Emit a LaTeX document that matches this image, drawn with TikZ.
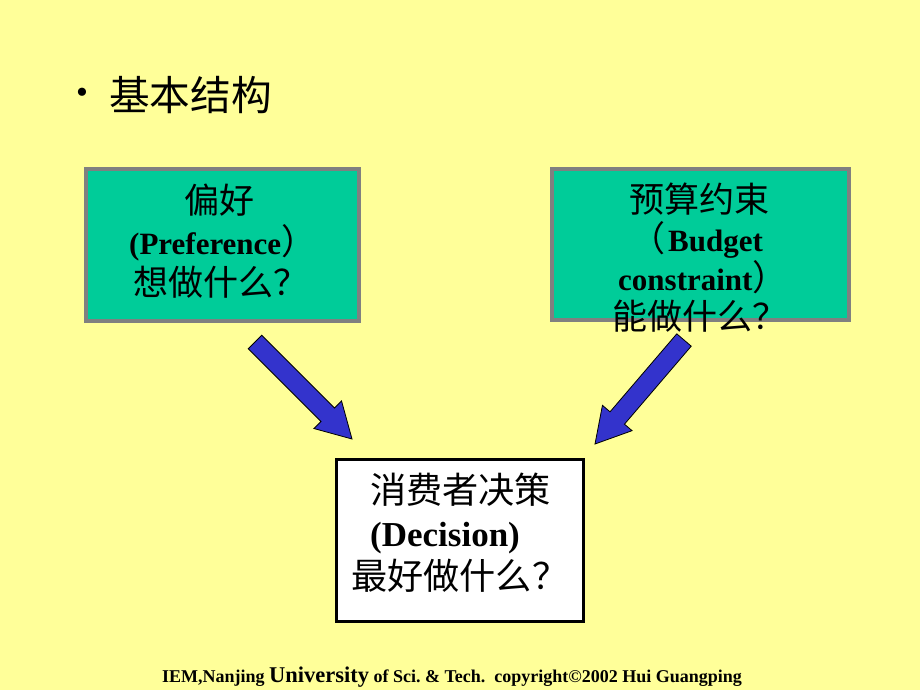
\documentclass[tikz,border=0pt]{standalone}
\usepackage{fontspec}
\setmainfont{Liberation Serif}
\newfontfamily\cjk[Scale=1.13]{Noto Sans CJK SC}
\usetikzlibrary{calc}

\definecolor{paleyellow}{RGB}{255,255,153}
\definecolor{seagreen}{RGB}{0,204,153}
\definecolor{boxgray}{RGB}{128,128,128}
\definecolor{arrowblue}{RGB}{51,51,204}

\newcommand{\zh}[1]{{\cjk\mdseries #1}}
% fat block arrow from #1 to #2
\newcommand{\fatarrow}[2]{%
  \path (#1) -- (#2) coordinate[pos=0.75] (#1-h);
  \filldraw[fatarr] ($(#1)!9.5pt!90:(#2)$) -- ($(#1-h)!9.5pt!90:(#2)$)
    -- ($(#1-h)!19.5pt!90:(#2)$) -- (#2) -- ($(#1-h)!19.5pt!-90:(#2)$)
    -- ($(#1-h)!9.5pt!-90:(#2)$) -- ($(#1)!9.5pt!-90:(#2)$) -- cycle;}

\tikzset{
  greenbox/.style={draw=boxgray,fill=seagreen,line width=4pt,inner sep=0pt},
  whitebox/.style={draw=black,fill=white,line width=3pt,inner sep=0pt},
  boxtext/.style={anchor=west,align=left,inner sep=0pt,font=\bfseries\fontsize{31}{41}\selectfont},
  fatarr/.style={fill=arrowblue,draw=black,line width=0.8pt,line join=miter},
}

\begin{document}
\begin{tikzpicture}[x=1pt,y=-1pt]

        \path[fill=paleyellow] (0,0) rectangle (920,690);
        \useasboundingbox (0,0) rectangle (920,690);

        \node (bullet) at (82,96) {\fontsize{34}{40}\selectfont\textbullet};
        \node[anchor=west,inner sep=0pt] (title) at (109,95) {\cjk\fontsize{36}{40}\selectfont 基本结构};

        \node[greenbox,minimum width=273pt,minimum height=152pt] (pref) at (222.5,245) {};
        \node[greenbox,minimum width=297pt,minimum height=151pt] (budget) at (700.5,244.5) {};
        \node[whitebox,minimum width=247pt,minimum height=162pt] (decision) at (460,540.5) {};

        \node[boxtext] (preftext) at (129,241) {\hspace{55pt}\zh{偏好}\\(Preference\zh{）}\\\hspace{4pt}\zh{想做什么？}};
        \node[boxtext,font=\bfseries\fontsize{31}{39}\selectfont] (budgettext) at (612,258) {\hspace{17pt}\zh{预算约束}\\\hspace{18pt}\zh{（}\hspace{3pt}Budget\\\hspace{6pt}constraint\zh{）}\\\zh{能做什么？}};
        \node[boxtext,font=\bfseries\fontsize{32}{43}\selectfont] (decisiontext) at (351,533) {\hspace{19pt}\zh{消费者决策}\\\hspace{19pt}{\fontsize{35}{43}\selectfont(Decision)}\\\zh{最好做什么？}};

        \coordinate (ltail) at (255,342);
        \coordinate (ltip) at (352,439);
        \coordinate (rtail) at (684,340);
        \coordinate (rtip) at (595,444);
        \fatarrow{ltail}{ltip}
        \fatarrow{rtail}{rtip}

        \node (footer) at (452,677) {\bfseries\fontsize{18}{20}\selectfont IEM,Nanjing {\fontsize{22.5}{24}\selectfont University} of Sci.\ \& Tech.\ \ copyright\textcopyright2002 Hui Guangping};

\end{tikzpicture}
\end{document}
